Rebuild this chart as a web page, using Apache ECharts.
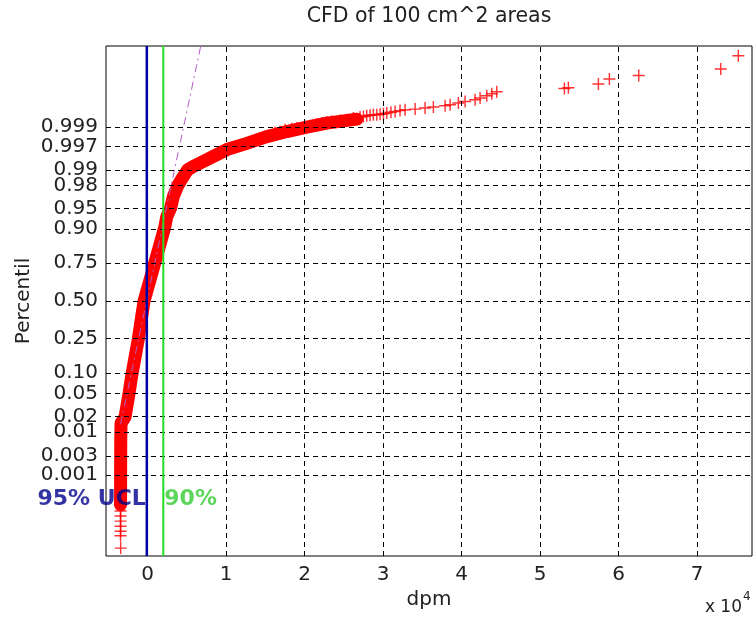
<!DOCTYPE html>
<html>
<head>
<meta charset="utf-8">
<title>CFD of 100 cm^2 areas</title>
<script src="https://cdn.jsdelivr.net/npm/echarts@6/dist/echarts.min.js"></script>
<style>
  html, body { margin: 0; padding: 0; background: #fff; }
  #chart { width: 753px; height: 626px; }
</style>
</head>
<body>
<div id="chart"></div>
<script>
// x ticks (dpm), labelled in units of 10^4
const xTickValues = [0, 10000, 20000, 30000, 40000, 50000, 60000, 70000];
// percentile ticks of the normal probability axis
const yTickLabels = ['0.001', '0.003', '0.01', '0.02', '0.05', '0.10', '0.25', '0.50',
  '0.75', '0.90', '0.95', '0.98', '0.99', '0.997', '0.999'];

// thick part of the curve (markers overlapping), read along its centre: dpm / normal score
const bandDpm = [-3450, -3440, -3440, -3430, -3420, -3400, -3380, -2870, -2400, -1980,
  -1200, -450, 900, 2170, 2450, 2930, 3290, 3850, 4270, 5100, 5800, 8380, 10090, 12640,
  15190, 17730, 20280, 22830, 26650];
const bandZ = [-3.62, -3.40, -3.10, -2.80, -2.50, -2.30, -2.17, -2.06, -1.67, -1.29,
  -0.69, 0.00, 0.67, 1.30, 1.50, 1.65, 1.86, 2.05, 2.15, 2.33, 2.39, 2.57, 2.69, 2.80,
  2.92, 3.01, 3.09, 3.16, 3.23];

// single markers at the low end
const lowDpm = [-3440, -3450, -3440, -3450, -3440, -3450, -3430];
const lowZ = [-3.73, -3.82, -3.91, -4.00, -4.09, -4.17, -4.39];

// single markers along the upper tail
const highDpm = [16240, 16880, 17520, 18370, 19010, 20700, 21550, 22190, 22830, 23470,
  24520, 25380, 26220, 27070, 27500, 27920, 28340, 28760, 29200, 29620, 30050, 30470,
  31000, 31530, 32160, 32800, 34080, 35350, 36410, 37900, 38540, 39590, 40450, 41720,
  42360, 43210, 43850, 44480, 53100, 53610, 57430, 58830, 62570, 73020, 75260];
const highZ = [2.994, 3.012, 3.042, 3.060, 3.072, 3.113, 3.143, 3.161, 3.178, 3.189,
  3.207, 3.219, 3.250, 3.267, 3.278, 3.290, 3.299, 3.308, 3.308, 3.318, 3.328, 3.338,
  3.352, 3.367, 3.382, 3.397, 3.409, 3.427, 3.445, 3.468, 3.486, 3.516, 3.545, 3.575,
  3.605, 3.646, 3.681, 3.717, 3.775, 3.790, 3.854, 3.943, 4.007, 4.120, 4.357];

// normal fit reference line (end points)
const refDpm = [-3450, 6770];
const refZ = [-2.19, 4.53];

// limit lines and their labels
const ucl95 = -100;
const ucl90 = 2000;
const noteText = ['95% UCL', '90%'];
const noteDpm = [ucl95, ucl90];
const noteZ = [-3.52, -3.52];

const xMin = -5300, xMax = 77000;
const yLimit = 4.53;

// inverse normal CDF (Acklam), used for the probability axis
function probit(p) {
  const a = [-39.69683028665376, 220.9460984245205, -275.9285104469687, 138.3577518672690, -30.66479806614716, 2.506628277459239];
  const b = [-54.47609879822406, 161.5858368580409, -155.6989798598866, 66.80131188771972, -13.28068155288572];
  const c = [-0.007784894002430293, -0.3223964580411365, -2.400758277161838, -2.549732539343734, 4.374664141464968, 2.938163982698783];
  const d = [0.007784695709041462, 0.3224671290700398, 2.445134137142996, 3.754408661907416];
  const pl = 0.02425;
  let q, r;
  if (p < pl) {
    q = Math.sqrt(-2 * Math.log(p));
    return (((((c[0] * q + c[1]) * q + c[2]) * q + c[3]) * q + c[4]) * q + c[5]) /
      ((((d[0] * q + d[1]) * q + d[2]) * q + d[3]) * q + 1);
  }
  if (p > 1 - pl) {
    q = Math.sqrt(-2 * Math.log(1 - p));
    return -(((((c[0] * q + c[1]) * q + c[2]) * q + c[3]) * q + c[4]) * q + c[5]) /
      ((((d[0] * q + d[1]) * q + d[2]) * q + d[3]) * q + 1);
  }
  q = p - 0.5;
  r = q * q;
  return (((((a[0] * r + a[1]) * r + a[2]) * r + a[3]) * r + a[4]) * r + a[5]) * q /
    (((((b[0] * r + b[1]) * r + b[2]) * r + b[3]) * r + b[4]) * r + 1);
}

const yTickZ = yTickLabels.map(s => probit(Number(s)));
// blank labels at both ends keep echarts from dropping the crowded outer ones
const yLabelValues = [-yLimit].concat(yTickZ, [yLimit]);

const zip = (xs, ys) => xs.map((x, i) => [x, ys[i]]);
const bandData = zip(bandDpm, bandZ);
const markerData = bandData.concat(zip(lowDpm, lowZ), zip(highDpm, highZ));

const FONT = '"DejaVu Sans", Verdana, sans-serif';
const TXT = '#222';
const plus = 'path://M4.4,0h1.2v4.4h4.4v1.2h-4.4v4.4h-1.2v-4.4h-4.4v-1.2h4.4z';

const chart = echarts.init(document.getElementById('chart'));

const option = {
  animation: false,
  backgroundColor: '#fff',
  grid: {
    left: 106, right: 1, top: 46, bottom: 70,
    show: true, borderColor: '#000', borderWidth: 1, backgroundColor: 'transparent'
  },
  xAxis: {
    type: 'value', min: xMin, max: xMax,
    name: 'dpm', nameLocation: 'middle', nameGap: 32,
    nameTextStyle: { fontFamily: FONT, fontSize: 20, color: TXT },
    axisLine: { show: false },
    axisTick: { show: false },
    splitLine: { show: false },
    axisLabel: {
      customValues: xTickValues,
      formatter: v => String(v / 10000),
      fontFamily: FONT, fontSize: 20, color: TXT, margin: 9
    }
  },
  yAxis: {
    type: 'value', min: -yLimit, max: yLimit,
    name: 'Percentil', nameLocation: 'middle', nameGap: 72, nameMoveOverlap: false,
    nameTextStyle: { fontFamily: FONT, fontSize: 20, color: TXT },
    axisLine: { show: false },
    axisTick: { show: false },
    splitLine: { show: false },
    axisLabel: {
      customValues: yLabelValues,
      hideOverlap: false,
      formatter: v => {
        const i = yTickZ.findIndex(z => Math.abs(z - v) < 1e-6);
        return i >= 0 ? yTickLabels[i] : '';
      },
      fontFamily: FONT, fontSize: 20, color: TXT, margin: 8
    }
  },
  graphic: [
    {
      type: 'text', x: 429, y: 17, silent: true,
      style: { text: 'CFD of 100 cm^2 areas', font: '20.5px ' + FONT, fill: TXT, align: 'center', verticalAlign: 'middle' }
    },
    {
      type: 'text', x: 742, y: 608, silent: true,
      style: { text: 'x 10', font: '17px ' + FONT, fill: TXT, align: 'right', verticalAlign: 'middle' }
    },
    {
      type: 'text', x: 743, y: 597, silent: true,
      style: { text: '4', font: '12px ' + FONT, fill: TXT, align: 'left', verticalAlign: 'middle' }
    }
  ],
  series: [
    {
      // dashed grid at the tick positions
      type: 'line', data: [], z: 1, silent: true,
      markLine: {
        silent: true, symbol: ['none', 'none'], label: { show: false },
        lineStyle: { color: '#000', width: 1, type: [5, 4] },
        data: xTickValues.map(v => ({ xAxis: v })).concat(yTickZ.map(v => ({ yAxis: v })))
      }
    },
    {
      type: 'line', data: bandData, z: 2, silent: true, symbol: 'none',
      lineStyle: { color: '#ff0000', width: 13, cap: 'round', join: 'round' }
    },
    {
      type: 'scatter', data: markerData, z: 3, silent: true,
      symbol: plus, symbolSize: 12, itemStyle: { color: '#ff0000' }
    },
    {
      type: 'line', data: zip(refDpm, refZ), z: 4, silent: true, symbol: 'none',
      lineStyle: { color: '#b35cc4', width: 1, type: [8, 4, 2, 4] }
    },
    {
      type: 'line', data: [[ucl95, -yLimit], [ucl95, yLimit]], z: 5, silent: true, symbol: 'none',
      lineStyle: { color: '#0000a8', width: 2.5 }
    },
    {
      type: 'line', data: [[ucl90, -yLimit], [ucl90, yLimit]], z: 5, silent: true, symbol: 'none',
      lineStyle: { color: '#22dd22', width: 2 }
    },
    {
      type: 'scatter', z: 6, silent: true, symbolSize: 0,
      data: noteText.map((t, i) => ({
        name: t, value: [noteDpm[i], noteZ[i]],
        label: {
          position: i === 0 ? 'left' : 'right',
          color: i === 0 ? '#00008c' : '#33cc33'
        }
      })),
      label: {
        show: true, distance: 1, formatter: p => p.name,
        fontFamily: FONT, fontSize: 22, fontWeight: 'bold'
      }
    }
  ]
};

chart.setOption(option);
</script>
</body>
</html>
